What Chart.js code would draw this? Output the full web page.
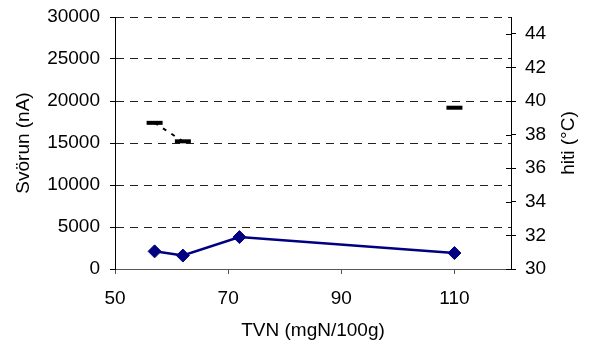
<!DOCTYPE html>
<html>
<head>
<meta charset="utf-8">
<script src="https://cdn.jsdelivr.net/npm/chart.js@4/dist/chart.umd.min.js"></script>
<style>
  html, body { margin: 0; padding: 0; background: #fff; }
  #wrap { width: 592px; height: 347px; }
</style>
</head>
<body>
<div id="wrap"><canvas id="chart"></canvas></div>
<script>
// TVN against signal (left axis) and temperature (right axis)
const tvn = [57, 62, 72, 110];
const svorun = [2100, 1600, 3800, 1900];
const hiti = [38.7, 37.6, null, 39.6];

const xTicks = [50, 70, 90, 110];
const leftTicks = [0, 5000, 10000, 15000, 20000, 25000, 30000];
const rightTicks = [30, 32, 34, 36, 38, 40, 42, 44];

const FONT = { family: "'Liberation Sans', Arial, sans-serif", size: 19 };

function pairs(xs, ys) {
    return xs.map((x, i) => ({ x: x, y: ys[i] }));
}

const plain = v => String(v);

// fixed box sizes so the plot area sits where it should
function fixBox(prop, size) {
    return function (scale) {
        scale[prop] = size;
        scale.paddingTop = 0;
        scale.paddingBottom = 0;
        scale.paddingLeft = 0;
        scale.paddingRight = 0;
    };
}

// right-hand title reads bottom to top, and the right ticks cross the axis line
const rightAxisExtras = {
    id: 'rightAxisExtras',
    afterDraw(chart) {
        const ctx = chart.ctx;
        const s = chart.scales.y2;
        const area = chart.chartArea;
        ctx.save();
        ctx.strokeStyle = '#000';
        ctx.lineWidth = 1;
        s.ticks.forEach(t => {
            const y = Math.round(s.getPixelForValue(t.value)) + 0.5;
            ctx.beginPath();
            ctx.moveTo(area.right - 5, y);
            ctx.lineTo(area.right, y);
            ctx.stroke();
        });
        ctx.translate(569, (area.top + area.bottom) / 2);
        ctx.rotate(-Math.PI / 2);
        ctx.font = FONT.size + 'px ' + FONT.family;
        ctx.fillStyle = '#000';
        ctx.textAlign = 'center';
        ctx.textBaseline = 'middle';
        ctx.fillText('hiti (°C)', 0, 0);
        ctx.restore();
    }
};

new Chart(document.getElementById('chart'), {
    type: 'line',
    data: {
        datasets: [
            {
                label: 'Svörun',
                data: pairs(tvn, svorun),
                yAxisID: 'y',
                borderColor: '#000080',
                backgroundColor: '#000080',
                borderWidth: 2.5,
                pointStyle: 'rectRot',
                pointRadius: 6.5,
                pointBorderWidth: 1,
                tension: 0
            },
            {
                label: 'hiti',
                data: pairs(tvn, hiti),
                yAxisID: 'y2',
                borderColor: '#000',
                backgroundColor: '#000',
                borderWidth: 2,
                borderDash: [4, 6],
                pointStyle: 'line',
                pointRadius: 8,
                pointBorderWidth: 4,
                spanGaps: false,
                tension: 0
            }
        ]
    },
    options: {
        responsive: true,
        maintainAspectRatio: false,
        animation: false,
        layout: { padding: { top: 17, left: 0, right: 0, bottom: 0 } },
        plugins: {
            legend: { display: false },
            tooltip: { enabled: false }
        },
        scales: {
            x: {
                type: 'linear',
                min: 50,
                max: 120,
                afterBuildTicks: s => { s.ticks = xTicks.map(v => ({ value: v })); },
                ticks: { color: '#000', font: FONT, padding: 13, maxRotation: 0, callback: plain },
                grid: { drawOnChartArea: false, tickLength: 5, color: '#555' },
                border: { color: '#555', width: 1 },
                title: {
                    display: true,
                    text: 'TVN (mgN/100g)',
                    color: '#000',
                    font: FONT,
                    padding: { top: 0, bottom: 5 }
                },
                afterFit: fixBox('height', 78)
            },
            y: {
                position: 'left',
                min: 0,
                max: 30000,
                afterBuildTicks: s => { s.ticks = leftTicks.map(v => ({ value: v })); },
                ticks: { color: '#000', font: FONT, padding: 10, callback: plain },
                grid: {
                    tickLength: 5,
                    tickColor: '#000',
                    color: c => (c.tick && c.tick.value === 0) ? 'rgba(0,0,0,0)' : '#222'
                },
                border: { color: '#000', width: 1, dash: [8, 6] },
                title: {
                    display: true,
                    text: 'Svörun (nA)',
                    color: '#000',
                    font: FONT,
                    padding: { top: 12, bottom: 0 }
                },
                afterFit: fixBox('width', 115)
            },
            y2: {
                position: 'right',
                min: 30,
                max: 45,
                afterBuildTicks: s => { s.ticks = rightTicks.map(v => ({ value: v })); },
                ticks: { color: '#000', font: FONT, padding: 9, callback: plain },
                grid: { drawOnChartArea: false, tickLength: 5, color: '#000' },
                border: { color: '#000', width: 1 },
                afterFit: fixBox('width', 81)
            }
        }
    },
    plugins: [rightAxisExtras]
});
</script>
</body>
</html>
